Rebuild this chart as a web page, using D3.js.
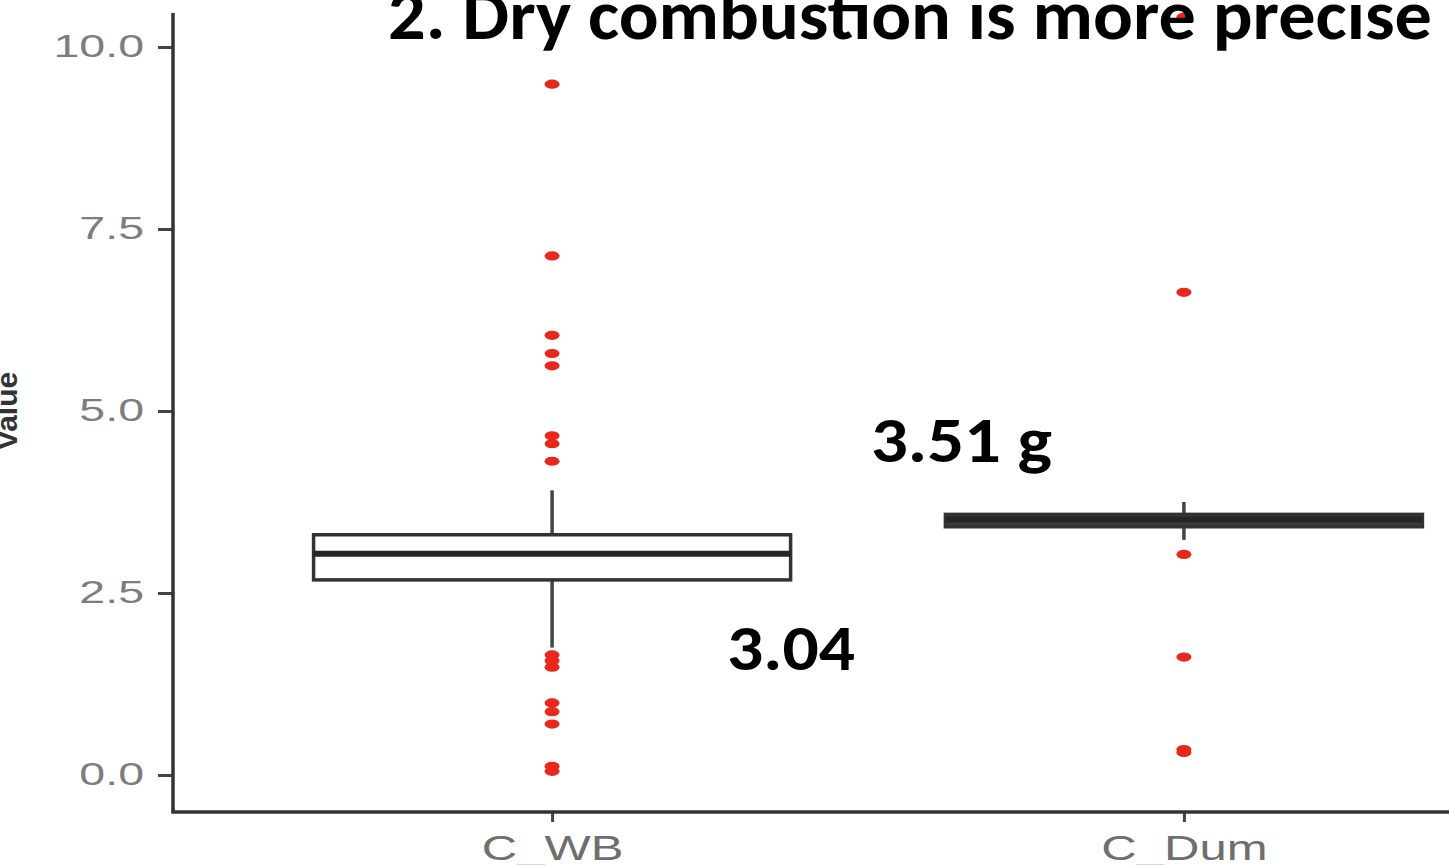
<!DOCTYPE html>
<html>
<head>
<meta charset="utf-8">
<script src="https://cdn.jsdelivr.net/npm/d3@7"></script>
<style>
  html, body { margin: 0; padding: 0; background: #ffffff; overflow: hidden; }
  svg { display: block; }
</style>
</head>
<body>
<svg id="chart" width="1449" height="865"></svg>
<script>
// ---- data ----
const categories = ["C_WB", "C_Dum"];
const lowerWhisker = [1.75, 3.23];
const q1Values = [2.68, 3.41];
const medianValues = [3.04, 3.51];
const q3Values = [3.30, 3.58];
const upperWhisker = [3.91, 3.75];
const outliersWB = [9.49, 7.13, 6.04, 5.79, 5.62, 4.66, 4.55, 4.31, 1.65, 1.57, 1.48, 0.99, 0.87, 0.70, 0.12, 0.05];
const outliersDum = [10.41, 6.63, 3.03, 1.62, 0.35, 0.31];
const yTicks = [0, 2.5, 5, 7.5, 10];
const titleText = "2. Dry combustion is more precise";
const annotations = [
  { text: "3.51 g", cat: "C_Dum" },
  { text: "3.04",   cat: "C_WB" }
];
const yAxisTitle = "Value";

// ---- layout ----
const svg = d3.select("#chart");
const axisX = 173, axisY = 812;
const y = d3.scaleLinear().domain([0, 10]).range([775, 47]);
const x = d3.scalePoint().domain(categories).range([173, 1563]).padding(0.6);
const boxW = x.step() * 0.755;

const outliers = [outliersWB, outliersDum];

// boxes
categories.forEach((c, i) => {
  const cx = x(c);
  const g = svg.append("g");
  // whiskers
  g.append("line").attr("x1", cx).attr("x2", cx)
    .attr("y1", y(upperWhisker[i])).attr("y2", y(q3Values[i]))
    .attr("stroke", "#444").attr("stroke-width", 3.5);
  g.append("line").attr("x1", cx).attr("x2", cx)
    .attr("y1", y(q1Values[i])).attr("y2", y(lowerWhisker[i]))
    .attr("stroke", "#444").attr("stroke-width", 3.5);
  const h = y(q1Values[i]) - y(q3Values[i]);
  g.append("rect")
    .attr("x", cx - boxW / 2).attr("y", y(q3Values[i]))
    .attr("width", boxW).attr("height", h)
    .attr("fill", h < 20 ? "#3a3a3a" : "#ffffff")
    .attr("stroke", "#333").attr("stroke-width", 3.5);
  g.append("line")
    .attr("x1", cx - boxW / 2).attr("x2", cx + boxW / 2)
    .attr("y1", y(medianValues[i])).attr("y2", y(medianValues[i]))
    .attr("stroke", "#262626").attr("stroke-width", 6);
  // outliers
  g.selectAll("ellipse").data(outliers[i]).join("ellipse")
    .attr("cx", cx).attr("cy", d => y(d))
    .attr("rx", 7.5).attr("ry", 4.6)
    .attr("fill", "#e8281c");
});

// axes
const yAxis = d3.axisLeft(y).tickValues(yTicks).tickFormat(d3.format(".1f"))
  .tickSize(15).tickPadding(14);
const gy = svg.append("g").attr("transform", `translate(${axisX},0)`).call(yAxis);
gy.select(".domain").remove();
gy.selectAll(".tick line").attr("stroke", "#444").attr("stroke-width", 3);
gy.selectAll(".tick text")
  .attr("fill", "#7d7d7d")
  .style("font-family", "'Liberation Sans', Arial, sans-serif")
  .style("font-size", "31px");
gy.selectAll(".tick text").each(function () {
  const len = this.getComputedTextLength();
  d3.select(this).attr("textLength", len * 1.5).attr("lengthAdjust", "spacingAndGlyphs");
});

const xAxis = d3.axisBottom(x).tickSize(10).tickPadding(13);
const gx = svg.append("g").attr("transform", `translate(0,${axisY})`).call(xAxis);
gx.select(".domain").remove();
gx.selectAll(".tick line").attr("stroke", "#444").attr("stroke-width", 3);
gx.selectAll(".tick text")
  .attr("fill", "#6e6e6e")
  .style("font-family", "'Liberation Sans', Arial, sans-serif")
  .style("font-size", "35px");
gx.selectAll(".tick text").each(function () {
  const len = this.getComputedTextLength();
  d3.select(this).attr("textLength", len * 1.4).attr("lengthAdjust", "spacingAndGlyphs");
});

// axis lines
svg.append("line").attr("x1", axisX).attr("x2", axisX).attr("y1", 13).attr("y2", axisY)
  .attr("stroke", "#333").attr("stroke-width", 3.5);
svg.append("line").attr("x1", axisX - 1.75).attr("x2", 1449).attr("y1", axisY).attr("y2", axisY)
  .attr("stroke", "#333").attr("stroke-width", 3.5);

// y axis title (mostly cut off at the left edge, as in the source)
svg.append("text")
  .attr("transform", `translate(17,${y(5)}) rotate(-90)`)
  .attr("text-anchor", "middle")
  .attr("fill", "#333")
  .style("font-family", "'Liberation Sans', Arial, sans-serif")
  .style("font-size", "30px")
  .style("font-weight", "bold")
  .text(yAxisTitle);

// annotations
const boldFont = "Carlito, Lato, 'Open Sans', sans-serif";
svg.append("text")
  .attr("x", 388).attr("y", 39)
  .attr("textLength", 1044).attr("lengthAdjust", "spacingAndGlyphs")
  .attr("fill", "#000")
  .style("font-family", boldFont).style("font-weight", "bold").style("font-size", "70px")
  .text(titleText);

const annPos = { "3.51 g": { dx: -313, v: 4.3, len: 181 }, "3.04": { dx: 175, v: 1.44, len: 128 } };
annotations.forEach(a => {
  const p = annPos[a.text];
  svg.append("text")
    .attr("x", x(a.cat) + p.dx).attr("y", y(p.v))
    .attr("textLength", p.len).attr("lengthAdjust", "spacingAndGlyphs")
    .attr("fill", "#000")
    .style("font-family", boldFont).style("font-weight", "bold").style("font-size", "65px")
    .text(a.text);
});
</script>
</body>
</html>
